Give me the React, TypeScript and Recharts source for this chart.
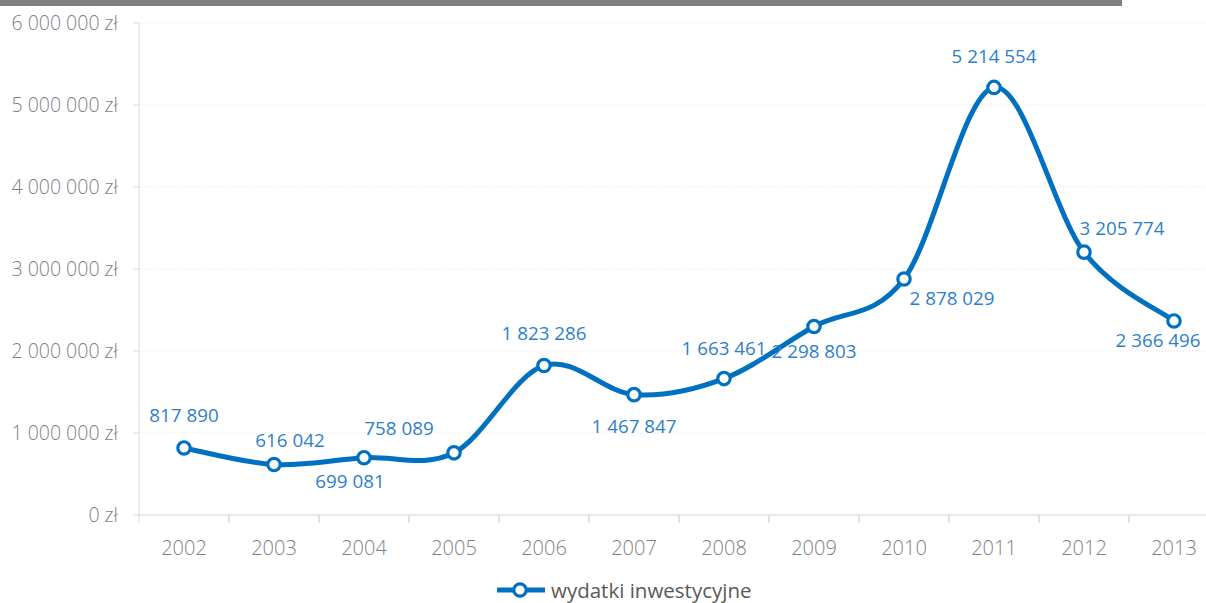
import { CartesianGrid, LabelList, Line, LineChart, XAxis, YAxis } from "recharts";

const years = ["2002", "2003", "2004", "2005", "2006", "2007", "2008", "2009", "2010", "2011", "2012", "2013"];
const wydatki = [817890, 616042, 699081, 758089, 1823286, 1467847, 1663461, 2298803, 2878029, 5214554, 3205774, 2366496];
const yTicks = [0, 1000000, 2000000, 3000000, 4000000, 5000000, 6000000];
const seriesName = "wydatki inwestycyjne";

// label placement (offset from point centre), as Excel put them
const labelDx = [0, 16, -14, -55, 0, 0, 0, 0, 48, 0, 38, -16];
const labelDy = [-33, -24, 23, -25, -32, 31, -31, 25, 19, -31, -24, 19];

const data = years.map((year, i) => ({ year, value: wydatki[i] }));

const CHART_W = 1219;
const CHART_H = 603;
const Y_AXIS_W = 139;
const HALF_BAND = (CHART_W - Y_AXIS_W) / years.length / 2;

const BLUE = "#0070c0";
const LABEL_BLUE = "#2e7fc8";
const GRAY_TEXT = "#7f7f7f";
const AXIS_GRAY = "#d9d9d9";
const FONT = "'Open Sans', 'Noto Sans', sans-serif";

const spaced = (v: number) => String(v).replace(/\B(?=(\d{3})+(?!\d))/g, " ");

// Excel-like smoothed line (Catmull-Rom as cubic bezier)
function excelSmooth(context: any) {
  let pts: number[][] = [];
  return {
    areaStart() {},
    areaEnd() {},
    lineStart() {
      pts = [];
    },
    point(x: number, y: number) {
      pts.push([+x, +y]);
    },
    lineEnd() {
      const n = pts.length;
      if (!n) return;
      context.moveTo(pts[0][0], pts[0][1]);
      for (let i = 0; i < n - 1; i++) {
        const p0 = pts[Math.max(i - 1, 0)];
        const p1 = pts[i];
        const p2 = pts[i + 1];
        const p3 = pts[Math.min(i + 2, n - 1)];
        context.bezierCurveTo(
          p1[0] + (p2[0] - p0[0]) / 6,
          p1[1] + (p2[1] - p0[1]) / 6,
          p2[0] - (p3[0] - p1[0]) / 6,
          p2[1] - (p3[1] - p1[1]) / 6,
          p2[0],
          p2[1]
        );
      }
    },
  };
}

const XTick = (props: any) => {
  const { x, y, payload } = props;
  return (
    <g>
      <line x1={x - HALF_BAND} y1={y} x2={x - HALF_BAND} y2={y + 8} stroke={AXIS_GRAY} />
      <line x1={x + HALF_BAND} y1={y} x2={x + HALF_BAND} y2={y + 8} stroke={AXIS_GRAY} />
      <text x={x} y={y + 32} textAnchor="middle" dominantBaseline="central" fill={GRAY_TEXT} fontSize={20} fontFamily={FONT} fontWeight={300}>
        {payload.value}
      </text>
    </g>
  );
};

const PointLabel = (props: any) => {
  const { x, y, value, index } = props;
  return (
    <text
      x={x + labelDx[index]}
      y={y + labelDy[index]}
      textAnchor="middle"
      dominantBaseline="central"
      fill={LABEL_BLUE}
      fontSize={18.8}
      fontFamily={FONT}
    >
      {spaced(value)}
    </text>
  );
};

export default function App() {
  return (
    <div style={{ position: "absolute", left: 0, top: 0, width: 1206, height: 603, overflow: "hidden", background: "#fff" }}>
      <div style={{ position: "absolute", left: 0, top: 0, width: 1122, height: 6, background: "#7f7f7f" }} />
      <LineChart width={CHART_W} height={CHART_H} data={data} margin={{ top: 23, right: 0, bottom: 0, left: 0 }}>
        <CartesianGrid vertical={false} stroke="#e3e3e3" strokeDasharray="1 2" />
        <XAxis
          dataKey="year"
          height={88}
          padding={{ left: HALF_BAND, right: HALF_BAND }}
          tickLine={false}
          tickSize={0}
          tickMargin={0}
          axisLine={{ stroke: AXIS_GRAY }}
          tick={<XTick />}
          interval={0}
        />
        <YAxis
          width={Y_AXIS_W}
          domain={[0, 6000000]}
          ticks={yTicks}
          tickFormatter={(v) => `${spaced(v)} zł`}
          axisLine={{ stroke: AXIS_GRAY }}
          tickLine={{ stroke: AXIS_GRAY }}
          tickSize={6}
          tickMargin={15}
          tick={{ fill: GRAY_TEXT, fontSize: 19.5, fontFamily: FONT, fontWeight: 300 }}
        />
        <Line
          dataKey="value"
          name={seriesName}
          type={excelSmooth as any}
          stroke={BLUE}
          strokeWidth={5}
          dot={{ r: 6.2, fill: "#fff", stroke: BLUE, strokeWidth: 3.2 }}
          activeDot={false}
          isAnimationActive={false}
        >
          <LabelList dataKey="value" content={<PointLabel />} />
        </Line>
      </LineChart>
      <div style={{ position: "absolute", left: 497, top: 578, height: 24, display: "flex", alignItems: "center", fontFamily: FONT }}>
        <svg width={50} height={24}>
          <line x1={0} y1={12} x2={48} y2={12} stroke={BLUE} strokeWidth={5} />
          <circle cx={23} cy={12} r={6.2} fill="#fff" stroke={BLUE} strokeWidth={3.2} />
        </svg>
        <span style={{ marginLeft: 4, fontSize: 20.5, color: "#595959" }}>{seriesName}</span>
      </div>
    </div>
  );
}
